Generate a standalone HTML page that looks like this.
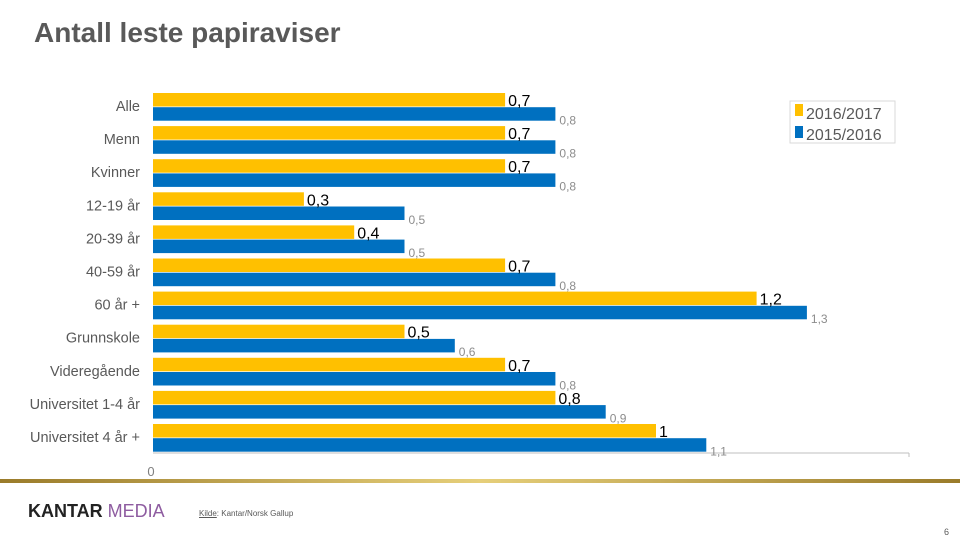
<!DOCTYPE html>
<html><head><meta charset="utf-8"><style>
body{margin:0;width:960px;height:540px;background:#fff;overflow:hidden;font-family:"Liberation Sans",sans-serif;position:relative}
.t{position:absolute}
</style></head><body>
<div class="t" style="left:34px;top:17px;font-size:28px;font-weight:bold;color:#595959">Antall leste papiraviser</div>
<svg width="960" height="540" style="position:absolute;left:0;top:0" id="c">
<defs><linearGradient id="g" x1="0" x2="1"><stop offset="0" stop-color="#9a7b2a"/><stop offset="0.5" stop-color="#e6cf7a"/><stop offset="1" stop-color="#9a7b2a"/></linearGradient></defs>
<rect x="0" y="479" width="960" height="4" fill="url(#g)"/>
<line x1="153" y1="453" x2="909" y2="453" stroke="#bfbfbf"/>
<line x1="909" y1="453" x2="909" y2="457" stroke="#bfbfbf"/>
<text x="151" y="476" font-size="13" fill="#7f7f7f" text-anchor="middle">0</text>
<g id="bars"></g>
<rect x="795" y="104" width="8" height="12" fill="#ffc000"/>
<text x="806" y="119" font-size="16" fill="#595959">2016/2017</text>
<rect x="795" y="126" width="8" height="12" fill="#0070c0"/>
<text x="806" y="140" font-size="16" fill="#595959">2015/2016</text>
<rect x="790" y="101" width="105" height="42" fill="none" stroke="#d9d9d9"/>
</svg>
<div class="t" style="left:28px;top:501px;font-size:18px;font-weight:bold;color:#222;letter-spacing:0px">KANTAR <span style="color:#8e5ca0;font-weight:normal">MEDIA</span></div>
<div class="t" style="left:199px;top:509px;font-size:8px;color:#595959"><u>Kilde</u>: Kantar/Norsk Gallup</div>
<div class="t" style="left:944px;top:527px;font-size:9px;color:#595959">6</div>
<script>
const categories=["Alle","Menn","Kvinner","12-19 år","20-39 år","40-59 år","60 år +","Grunnskole","Videregående","Universitet 1-4 år","Universitet 4 år +"];
const series2016=[0.7,0.7,0.7,0.3,0.4,0.7,1.2,0.5,0.7,0.8,1];
const series2015=[0.8,0.8,0.8,0.5,0.5,0.8,1.3,0.6,0.8,0.9,1.1];
const labels2016=["0,7","0,7","0,7","0,3","0,4","0,7","1,2","0,5","0,7","0,8","1"];
const labels2015=["0,8","0,8","0,8","0,5","0,5","0,8","1,3","0,6","0,8","0,9","1,1"];
const NS="http://www.w3.org/2000/svg";
const x0=153,scale=503,top0=93,step=33.1,bh=13.5;
const xs=v=>x0+v*scale;
const g=document.getElementById('bars');
function mk(tag,attrs){const e=document.createElementNS(NS,tag);for(const k in attrs)e.setAttribute(k,attrs[k]);g.appendChild(e);return e;}
categories.forEach((c,i)=>{
 const y=top0+i*step;
 const l=mk('text',{x:140,y:y+18,'font-size':14.5,fill:'#595959','text-anchor':'end'});l.textContent=c;
 
 
 const a=mk('rect',{x:x0,y:y,width:xs(series2016[i])-x0,height:bh,fill:'#ffc000'});
 
 
 const b=mk('rect',{x:x0,y:y+bh+0.7,width:xs(series2015[i])-x0,height:bh,fill:'#0070c0'});
 
 
 const ta=mk('text',{x:xs(series2016[i])+3,y:y+13,'font-size':16,fill:'#000'});ta.textContent=labels2016[i];
 
 
 const tb=mk('text',{x:xs(series2015[i])+4,y:y+bh+18,'font-size':12,fill:'#8c8c8c'});tb.textContent=labels2015[i];
 
 
});
</script>
</body></html>
